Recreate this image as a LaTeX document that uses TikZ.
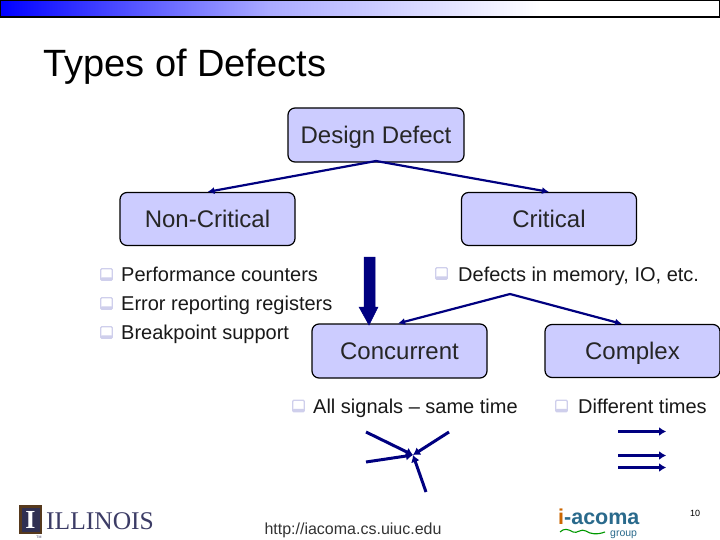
\documentclass[tikz,border=0pt]{standalone}
\usepackage{fontspec}
\setmainfont{Liberation Sans}
\newfontfamily\logoserif{Liberation Serif}
\usetikzlibrary{arrows.meta}
\definecolor{navy}{HTML}{000080}
\definecolor{boxfill}{HTML}{CCCCFF}
\definecolor{bul}{HTML}{CFCFEC}
\definecolor{acoma}{HTML}{2A6A8C}
\definecolor{illi}{HTML}{3C3C66}
\tikzset{
 defect/.style={draw=black,line width=1.2pt,fill=boxfill,rounded corners=7pt,inner sep=0pt,text height=17pt,text depth=0pt,font=\fontsize{24}{28}\selectfont,text=black!85},
 lbl/.style={anchor=west,inner sep=0pt,text height=14.2pt,text depth=0pt,font=\fontsize{20}{23}\selectfont,text=black!90},
 bullet/.style={draw=bul,line width=1.3pt,fill=white,minimum size=11.5pt,inner sep=0pt,rounded corners=1pt,
   path picture={\fill[bul] (path picture bounding box.south west) rectangle ([yshift=3pt]path picture bounding box.south east);}},
 conn/.style={draw=navy,line width=2.2pt,-{Latex[length=7pt,width=7pt]}},
 thickconn/.style={draw=navy,line width=3pt,-{Latex[length=7pt,width=9pt]}},
}
\begin{document}
\begin{tikzpicture}[x=1pt,y=-1pt]
\useasboundingbox (0,0) rectangle (720,540);
\fill[white] (0,0) rectangle (720,540);
\shade[left color=blue,right color=white,middle color=blue!33] (0,0) rectangle (540,17);
\draw[black,line width=1.3pt] (0.5,0.5) rectangle (719.5,17);
\node[anchor=base west,inner sep=0pt,font=\fontsize{38}{44}\selectfont] (title) at (43,77) {Types of Defects};
\node[defect,minimum width=176pt,minimum height=54pt] (design) at (376,135) {Design Defect};
\node[defect,minimum width=175pt,minimum height=53pt] (noncrit) at (207.5,219) {Non-Critical};
\node[defect,minimum width=175pt,minimum height=53pt] (crit) at (549,219) {Critical};
\node[defect,minimum width=175pt,minimum height=54pt] (conc) at (399.5,351) {Concurrent};
\node[defect,minimum width=175pt,minimum height=53pt] (comp) at (632.5,351) {Complex};
\node[bullet] (b1) at (106.5,274.5) {};
\node[bullet] (b2) at (106.5,303.5) {};
\node[bullet] (b3) at (106.5,332.5) {};
\node[lbl] (t1) at (121,274) {Performance counters};
\node[lbl] (t2) at (121,303) {Error reporting registers};
\node[lbl] (t3) at (121,332) {Breakpoint support};
\node[bullet] (b4) at (441.5,273.5) {};
\node[lbl] (t4) at (458,274) {Defects in memory, IO, etc.};
\node[bullet] (b5) at (298.5,406) {};
\node[lbl] (t5) at (313,406) {All signals – same time};
\node[bullet] (b6) at (561.5,406) {};
\node[lbl] (t6) at (578,406) {Different times};
\coordinate (dl) at (376,161);
\coordinate (cl) at (510,294);
\draw[conn] (dl) -- (noncrit.north);
\draw[conn] (dl) -- (crit.north);
\draw[conn] (cl) -- ([xshift=-1.5pt]conc.north);
\draw[conn] (cl) -- ([xshift=-10.5pt]comp.north);
\draw[draw=navy,fill=navy,line width=0.5pt] (364,257) -- (375,257) -- (375,307) -- (378,307) -- (369,325) -- (359,307) -- (364,307) -- cycle;
\coordinate (j) at (413,455);
\coordinate (s1) at (366,432);
\coordinate (s2) at (366,462);
\coordinate (s3) at (449,432);
\coordinate (s4) at (426,492);
\draw[thickconn] (s1) -- (j);
\draw[thickconn] (s2) -- (j);
\draw[thickconn] (s3) -- (j);
\draw[thickconn] (s4) -- (j);
\coordinate (r1a) at (618,431.5); \coordinate (r1b) at (666,431.5);
\coordinate (r2a) at (618,455.5); \coordinate (r2b) at (666,455.5);
\coordinate (r3a) at (618,467.5); \coordinate (r3b) at (666,467.5);
\draw[thickconn] (r1a) -- (r1b);
\draw[thickconn] (r2a) -- (r2b);
\draw[thickconn] (r3a) -- (r3b);
\node[inner sep=0pt,font=\fontsize{16}{18}\selectfont,text=black!80] (url) at (353,530) {http://iacoma.cs.uiuc.edu};
\node[inner sep=0pt,font=\fontsize{9}{10}\selectfont] (pg) at (695,513) {10};
% Illinois logo
\fill[black!55!brown] (19,505) rectangle (42,534);
\fill[illi!80!black] (21.5,507.5) rectangle (39.5,531.5);
\node[inner sep=0pt,text=white,font=\fontsize{26}{26}\selectfont\logoserif\bfseries] (logoi) at (30.5,519.5) {I};
\node[anchor=west,inner sep=0pt,text=illi,font=\fontsize{25.5}{28}\selectfont\logoserif] (ill) at (46,521.5) {ILLINOIS};
\node[inner sep=0pt,text=illi,font=\fontsize{3.5}{4}\selectfont] (tm) at (39,537.5) {TM};
% i-acoma logo
\node[anchor=base west,inner sep=0pt,text=acoma,font=\fontsize{21.5}{24}\selectfont\bfseries] (aco) at (558,524.5) {\textcolor{orange!80!black}{i}-acoma};
\node[anchor=base west,inner sep=0pt,text=acoma,font=\fontsize{10.5}{12}\selectfont] (grp) at (610,536) {group};
\draw[green!60!black,line width=1.1pt] (560,532) .. controls (564,528) and (568,529) .. (573,532) .. controls (577,534) and (581,528) .. (586,531) .. controls (590,534) and (597,535) .. (605,532);
\end{tikzpicture}
\end{document}
